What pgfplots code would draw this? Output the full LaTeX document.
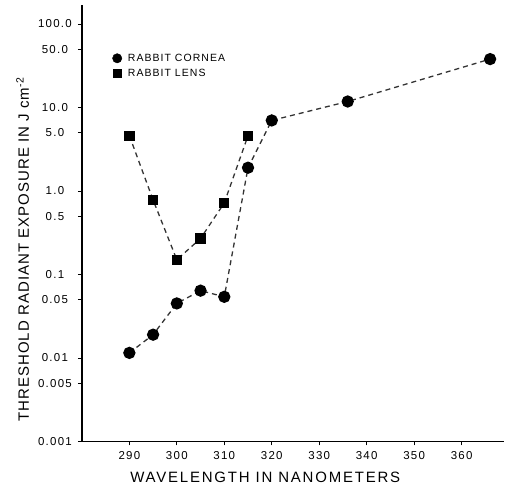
\documentclass[border=0pt]{standalone}
\usepackage{fontspec}
\setmainfont{Liberation Sans}
\usepackage{pgfplots}
\pgfplotsset{compat=1.18}
\pgfplotsset{markleg/.style={legend image code/.code={\draw[##1] plot coordinates {(0pt,0pt)};}}}
\begin{document}
\begin{tikzpicture}
\begin{axis}[
  scale only axis,
  width=423pt, height=437pt,
  ymode=log,
  xmin=280, xmax=369,
  ymin=0.001, ymax=169,
  axis lines*=left,
  axis line style={line width=1.3pt},
  xtick={290,300,...,360},
  ytick={0.001,0.005,0.01,0.05,0.1,0.5,1,5,10,50,100},
  yticklabels={0.001,0.005,0.01,0.05,0.1,0.5,1.0,5.0,10.0,50.0,100.0},
  yminorticks=false,
  tick style={black, line width=0.8pt},
  tick align=outside,
  major tick length=4pt,
  tick label style={font=\fontsize{11.5}{12}\selectfont\addfontfeature{LetterSpace=11}},
  /pgf/number format/assume math mode=true,
  xticklabel style={yshift=-3pt},
  yticklabel style={anchor=center, xshift=-23pt},
  xlabel={WAVELENGTH IN NANOMETERS},
  ylabel={THRESHOLD RADIANT EXPOSURE IN J cm\textsuperscript{-2}},
  xlabel style={font=\fontsize{15}{16}\selectfont\addfontfeature{LetterSpace=12},
    at={(axis description cs:0.434,-0.082)}, anchor=center},
  ylabel style={font=\fontsize{15}{16}\selectfont\addfontfeature{LetterSpace=7},
    at={(axis description cs:-0.14,0.44)}, anchor=center},
  legend style={at={(axis description cs:0.072,0.893)}, anchor=north west, draw=none, fill=none,
    font=\fontsize{10.5}{12}\selectfont\addfontfeature{LetterSpace=10}, row sep=2pt, inner sep=0pt,
    /tikz/every odd column/.append style={column sep=4pt}},
  legend cell align=left,
  clip=false,
]
\addplot[black!80, line width=1.3pt, dash pattern=on 5pt off 4pt, mark=*, mark size=5.5pt,
  mark options={solid, fill=black, draw=black}, forget plot] coordinates {
  (290,0.0115) (295,0.019) (300,0.045) (305,0.064) (310,0.054) (315,1.9) (320,7.0) (336,11.8) (366,38)
};
\addplot[black!80, line width=1.3pt, dash pattern=on 5pt off 4pt, mark=square*, mark size=4.5pt,
  mark options={solid, fill=black, draw=black}, forget plot] coordinates {
  (290,4.6) (295,0.78) (300,0.15) (305,0.27) (310,0.72) (315,4.6)
};
\addlegendimage{only marks, mark=*, mark size=4.7pt, black, fill=black, markleg}
\addlegendentry{RABBIT CORNEA}
\addlegendimage{only marks, mark=square*, mark size=3.6pt, black, fill=black, markleg}
\addlegendentry{RABBIT LENS}
\end{axis}
\path (current axis.south west) ++(-82pt,-53pt) rectangle ++(505pt,495pt);
\end{tikzpicture}
\end{document}
